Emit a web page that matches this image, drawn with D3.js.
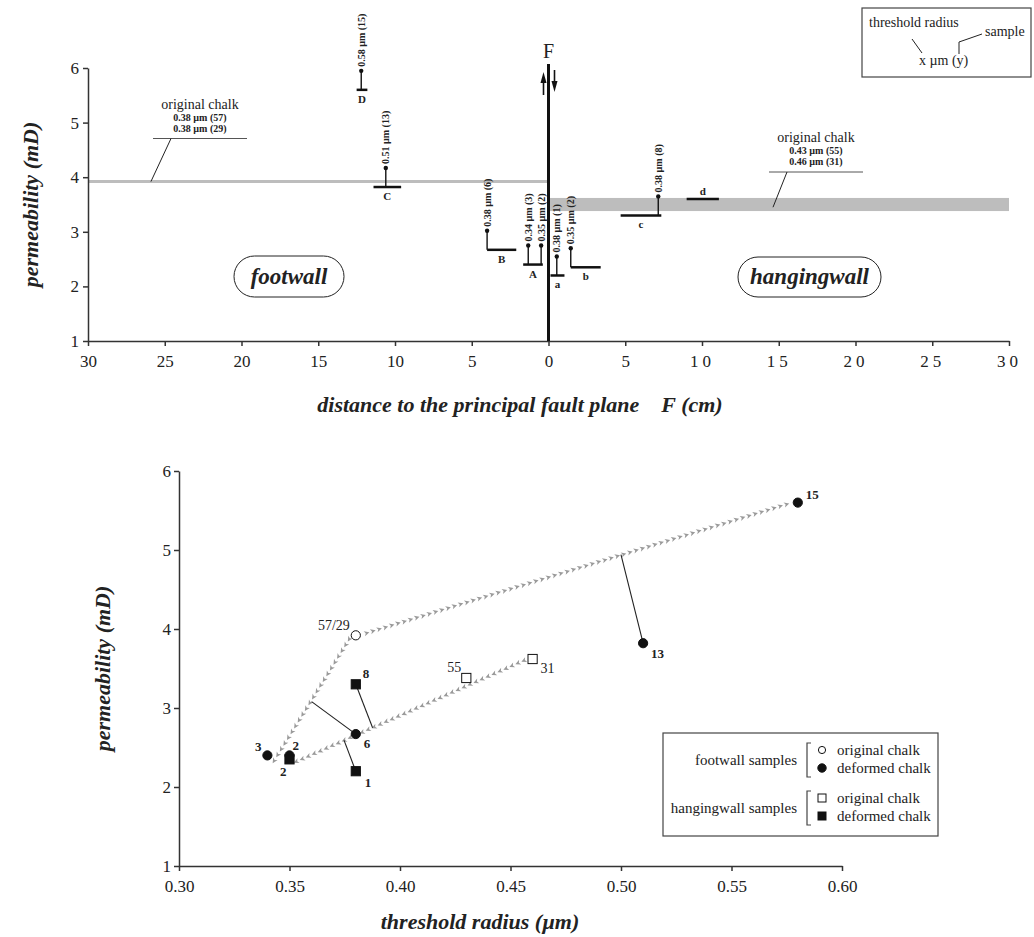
<!DOCTYPE html>
<html lang="en">
<head>
    <meta charset="utf-8">
    <title>Permeability across the fault zone</title>
    <script src="https://d3js.org/d3.v7.min.js"></script>
    <style>
        body {
            margin: 0;
            background: white;
        }
        svg, svg text {
            font-family: "Liberation Serif", "DejaVu Serif", Times, serif;
        }
        svg text {
            fill: #222;
        }
        .axis path, .axis line {
            stroke: #333;
            stroke-width: 1.5;
        }
        .axis text {
            font-size: 17px;
        }
        .axis-title {
            font-weight: bold;
            font-style: italic;
            font-size: 22px;
        }
        .val-label {
            font-size: 10px;
            font-weight: bold;
        }
        .mark-letter {
            font-size: 11px;
            font-weight: bold;
        }
        .legend-text {
            font-size: 15px;
        }
    </style>
</head>
<body>
<div id="chart"></div>
<script>
// ---- top chart: permeability vs distance to fault plane ----
const distTicks = [-30, -25, -20, -15, -10, -5, 0, 5, 10, 15, 20, 25, 30];
const permTicks = [1, 2, 3, 4, 5, 6];

// footwall original chalk (single value) and hangingwall band
const footwallOriginal = 3.92;
const hangingwallBand = [3.38, 3.62];

// sample zones (footwall negative distance, hangingwall positive)
const zoneLetters = ["D", "C", "B", "A", "a", "b", "c", "d"];
const zoneFrom = [-12.5, -11.4, -4.0, -1.65, 0.13, 1.45, 4.7, 9.0];
const zoneTo = [-11.8, -9.6, -2.1, -0.37, 1.04, 3.4, 7.35, 11.1];
const zonePerm = [5.6, 3.82, 2.67, 2.40, 2.20, 2.35, 3.30, 3.60];

// measured plugs inside the zones
const plugZone = ["D", "C", "B", "A", "A", "a", "b", "c"];
const plugDist = [-12.2, -10.6, -4.0, -1.32, -0.48, 0.54, 1.45, 7.15];
const plugText = ["0.58 \u00b5m (15)", "0.51 \u00b5m (13)", "0.38 \u00b5m (6)", "0.34 \u00b5m (3)",
                  "0.35 \u00b5m (2)", "0.38 \u00b5m (1)", "0.35 \u00b5m (2)", "0.38 \u00b5m (8)"];

// ---- bottom chart: permeability vs threshold radius ----
const radiusTicks = [0.30, 0.35, 0.40, 0.45, 0.50, 0.55, 0.60];
const sampleIds = ["57/29", "15", "13", "6", "3", "2", "55", "31", "8", "2", "1"];
const sampleRadius = [0.38, 0.58, 0.51, 0.38, 0.34, 0.35, 0.43, 0.46, 0.38, 0.35, 0.38];
const samplePerm = [3.92, 5.60, 3.82, 2.67, 2.40, 2.40, 3.38, 3.62, 3.30, 2.35, 2.20];
const sampleWall = ["foot", "foot", "foot", "foot", "foot", "foot", "hanging", "hanging", "hanging", "hanging", "hanging"];
const sampleState = ["original", "deformed", "deformed", "deformed", "deformed", "deformed",
                     "original", "original", "deformed", "deformed", "deformed"];

// gray evolution paths (radius, perm) start -> end
const trendPaths = [
    [[0.385, 3.95], [0.575, 5.58]],
    [[0.377, 3.87], [0.343, 2.33]],
    [[0.456, 3.60], [0.353, 2.32]]
];
// black tie lines from a sample to a path
const tieLines = [
    [[0.51, 3.82], [0.50, 4.94]],
    [[0.38, 2.67], [0.36, 3.08]],
    [[0.38, 3.30], [0.3876, 2.75]],
    [[0.38, 2.20], [0.3747, 2.59]]
];

const W = 1034, H = 937;
const svg = d3.select("#chart").append("svg")
    .attr("width", W)
    .attr("height", H)
    .attr("font-family", "Liberation Serif, DejaVu Serif, serif");

// ================= TOP CHART =================
const xTop = d3.scaleLinear().domain([-30, 30]).range([88, 1009]);
const yTop = d3.scaleLinear().domain([1, 6]).range([341, 68]);

const topG = svg.append("g");

// hangingwall band
topG.append("rect")
    .attr("x", xTop(0))
    .attr("y", yTop(hangingwallBand[1]))
    .attr("width", xTop(30) - xTop(0))
    .attr("height", yTop(hangingwallBand[0]) - yTop(hangingwallBand[1]))
    .attr("fill", "#bdbdbd");

// footwall original line
topG.append("line")
    .attr("x1", xTop(-30)).attr("x2", xTop(0))
    .attr("y1", yTop(footwallOriginal)).attr("y2", yTop(footwallOriginal))
    .attr("stroke", "#bdbdbd")
    .attr("stroke-width", 3);

// axes
topG.append("g")
    .attr("class", "axis")
    .attr("transform", `translate(0,${yTop(1)})`)
    .call(d3.axisBottom(xTop).tickValues(distTicks).tickSize(5).tickSizeOuter(0).tickFormat(d => Math.abs(d)))
    .attr("font-family", null)
    .call(g => g.selectAll("text")
        .attr("dy", "1.05em")
        .style("letter-spacing", d => d >= 10 ? "4px" : null));

topG.append("g")
    .attr("class", "axis")
    .attr("transform", `translate(${xTop(-30)},0)`)
    .call(d3.axisLeft(yTop).tickValues(permTicks).tickSize(5).tickSizeOuter(0).tickFormat(d3.format("d")))
    .attr("font-family", null)
    .call(g => g.selectAll("text").attr("dx", "-1px"));

// axis titles
topG.append("text")
    .attr("class", "axis-title")
    .attr("transform", `translate(38,${(yTop(1) + yTop(6)) / 2}) rotate(-90)`)
    .attr("text-anchor", "middle")
    .text("permeability (mD)");

topG.append("text")
    .attr("class", "axis-title")
    .attr("x", 520)
    .attr("y", 412)
    .attr("text-anchor", "middle")
    .attr("xml:space", "preserve")
    .text("distance to the principal fault plane    F (cm)");

// fault plane
topG.append("line")
    .attr("x1", xTop(0)).attr("x2", xTop(0))
    .attr("y1", 64).attr("y2", yTop(1))
    .attr("stroke", "#111")
    .attr("stroke-width", 3);

topG.append("text")
    .attr("x", xTop(0))
    .attr("y", 58)
    .attr("text-anchor", "middle")
    .style("font-size", "20px")
    .text("F");

// slip arrows
const fx = xTop(0);
topG.append("line").attr("x1", fx - 5).attr("x2", fx - 5).attr("y1", 80).attr("y2", 95)
    .attr("stroke", "#111").attr("stroke-width", 1.6);
topG.append("path").attr("d", `M${fx - 8},${83} L${fx - 5},${72} L${fx - 2},${83} Z`).attr("fill", "#111");
topG.append("line").attr("x1", fx + 6).attr("x2", fx + 6).attr("y1", 70).attr("y2", 84)
    .attr("stroke", "#111").attr("stroke-width", 1.6);
topG.append("path").attr("d", `M${fx + 3},${81} L${fx + 6},${92} L${fx + 9},${81} Z`).attr("fill", "#111");

// original chalk callouts
function callout(cx, lineY, leaderFrom, leaderTo, lines) {
    topG.append("text").attr("x", cx).attr("y", lineY - 30)
        .attr("text-anchor", "middle").style("font-size", "14px").text("original chalk");
    lines.forEach((t, i) => {
        topG.append("text").attr("x", cx).attr("y", lineY - 18 + i * 11)
            .attr("text-anchor", "middle").attr("class", "val-label").text(t);
    });
    topG.append("line").attr("x1", cx - 47).attr("x2", cx + 47)
        .attr("y1", lineY).attr("y2", lineY)
        .attr("stroke", "#555").attr("stroke-width", 1);
    topG.append("line").attr("x1", leaderFrom[0]).attr("y1", leaderFrom[1])
        .attr("x2", leaderTo[0]).attr("y2", leaderTo[1])
        .attr("stroke", "#222").attr("stroke-width", 1);
}
callout(200, 138.5, [171, 138.5], [xTop(-25.9), yTop(footwallOriginal)],
    ["0.38 \u00b5m (57)", "0.38 \u00b5m (29)"]);
callout(816, 172, [787, 172], [773, yTop(3.45)],
    ["0.43 \u00b5m (55)", "0.46 \u00b5m (31)"]);

// sample zones
zoneLetters.forEach((z, i) => {
    const y = yTop(zonePerm[i]);
    topG.append("line")
        .attr("x1", xTop(zoneFrom[i])).attr("x2", xTop(zoneTo[i]))
        .attr("y1", y).attr("y2", y)
        .attr("stroke", "#111").attr("stroke-width", 2.5);
    const hasPlug = plugZone.includes(z);
    topG.append("text")
        .attr("class", "mark-letter")
        .attr("x", (xTop(zoneFrom[i]) + xTop(zoneTo[i])) / 2)
        .attr("y", hasPlug ? y + 13 : y - 4)
        .attr("text-anchor", "middle")
        .text(z);
});

plugDist.forEach((d, i) => {
    const zi = zoneLetters.indexOf(plugZone[i]);
    const y0 = yTop(zonePerm[zi]);
    const x = xTop(d);
    const yDot = y0 - 19;
    topG.append("line").attr("x1", x).attr("x2", x).attr("y1", y0).attr("y2", yDot)
        .attr("stroke", "#111").attr("stroke-width", 1.4);
    topG.append("circle").attr("cx", x).attr("cy", yDot).attr("r", 2.2).attr("fill", "#111");
    topG.append("text")
        .attr("class", "val-label")
        .attr("transform", `translate(${x + 3.5},${yDot - 4}) rotate(-90)`)
        .text(plugText[i]);
});

// footwall / hangingwall tags
function tag(x, y, w, h, label) {
    topG.append("rect").attr("x", x).attr("y", y).attr("width", w).attr("height", h)
        .attr("rx", h / 2).attr("fill", "none").attr("stroke", "#222").attr("stroke-width", 1);
    topG.append("text").attr("x", x + w / 2).attr("y", y + h / 2 + 7)
        .attr("text-anchor", "middle")
        .style("font-weight", "bold").style("font-style", "italic").style("font-size", "23px")
        .text(label);
}
tag(234, 256, 110, 41, "footwall");
tag(738, 257, 143, 40, "hangingwall");

// key box top-right
const key = svg.append("g");
key.append("rect").attr("x", 862).attr("y", 8).attr("width", 169).attr("height", 69)
    .attr("fill", "none").attr("stroke", "#444").attr("stroke-width", 1.2);
key.append("text").attr("x", 869).attr("y", 27).style("font-size", "14px").text("threshold radius");
key.append("text").attr("x", 985).attr("y", 36).style("font-size", "14px").text("sample");
key.append("text").attr("x", 919).attr("y", 65).style("font-size", "14px").text("x \u00b5m (y)");
key.append("line").attr("x1", 912).attr("y1", 39).attr("x2", 922).attr("y2", 53)
    .attr("stroke", "#222").attr("stroke-width", 1);
key.append("path").attr("d", "M959,54 L959,42 L982,34")
    .attr("fill", "none").attr("stroke", "#222").attr("stroke-width", 1);

// ================= BOTTOM CHART =================
const xBot = d3.scaleLinear().domain([0.30, 0.60]).range([179, 842]);
const yBot = d3.scaleLinear().domain([1, 6]).range([866, 471]);
const bot = svg.append("g");

bot.append("g")
    .attr("class", "axis")
    .attr("transform", `translate(0,${yBot(1)})`)
    .call(d3.axisBottom(xBot).tickValues(radiusTicks).tickSize(5).tickSizeOuter(0).tickFormat(d3.format(".2f")))
    .attr("font-family", null)
    .call(g => g.selectAll("text").attr("dy", "1.05em"));

bot.append("g")
    .attr("class", "axis")
    .attr("transform", `translate(${xBot(0.30)},0)`)
    .call(d3.axisLeft(yBot).tickValues(permTicks).tickSize(5).tickSizeOuter(0).tickFormat(d3.format("d")))
    .attr("font-family", null);

bot.append("text")
    .attr("class", "axis-title")
    .attr("transform", `translate(110,${(yBot(1) + yBot(6)) / 2}) rotate(-90)`)
    .attr("text-anchor", "middle")
    .text("permeability (mD)");

bot.append("text")
    .attr("class", "axis-title")
    .attr("x", 480)
    .attr("y", 929)
    .attr("text-anchor", "middle")
    .text("threshold radius (\u00b5m)");

// gray chevron paths
function chevrons(p0, p1, step) {
    const a = [xBot(p0[0]), yBot(p0[1])], b = [xBot(p1[0]), yBot(p1[1])];
    const dx = b[0] - a[0], dy = b[1] - a[1];
    const len = Math.hypot(dx, dy);
    const ang = Math.atan2(dy, dx) * 180 / Math.PI;
    const n = Math.floor(len / step);
    bot.append("g").selectAll("path")
        .data(d3.range(n + 1))
        .join("path")
        .attr("d", "M-2.6,-2.6L2.6,0L-2.6,2.6L-1.2,0Z")
        .attr("transform", i => `translate(${a[0] + dx * i / n},${a[1] + dy * i / n}) rotate(${ang})`)
        .attr("fill", "#9a9a9a");
}
trendPaths.forEach(p => chevrons(p[0], p[1], 6.5));

tieLines.forEach(l => {
    bot.append("line")
        .attr("x1", xBot(l[0][0])).attr("y1", yBot(l[0][1]))
        .attr("x2", xBot(l[1][0])).attr("y2", yBot(l[1][1]))
        .attr("stroke", "#222").attr("stroke-width", 1.1);
});

// sample markers
sampleIds.forEach((id, i) => {
    const x = xBot(sampleRadius[i]), y = yBot(samplePerm[i]);
    const fill = sampleState[i] === "original" ? "white" : "#111";
    if (sampleWall[i] === "foot") {
        bot.append("circle").attr("cx", x).attr("cy", y).attr("r", 4.6)
            .attr("fill", fill).attr("stroke", "#111").attr("stroke-width", 1);
    } else {
        bot.append("rect").attr("x", x - 4.6).attr("y", y - 4.6).attr("width", 9.2).attr("height", 9.2)
            .attr("fill", fill).attr("stroke", "#111").attr("stroke-width", 1);
    }
});

// sample labels (offset in px, anchor)
const labelDx = [-6, 8, 8, 8, -6, 3, -5, 8, 7, -3, 9];
const labelDy = [-5, -4, 15, 14, -4, -5, -6, 14, -6, 17, 16];
const labelAnchor = ["end", "start", "start", "start", "end", "start", "end", "start", "start", "end", "start"];
sampleIds.forEach((id, i) => {
    bot.append("text")
        .attr("x", xBot(sampleRadius[i]) + labelDx[i])
        .attr("y", yBot(samplePerm[i]) + labelDy[i])
        .attr("text-anchor", labelAnchor[i])
        .style("font-size", sampleState[i] === "original" ? "14px" : "13px")
        .style("font-weight", sampleState[i] === "original" ? "normal" : "bold")
        .text(id);
});

// legend box
const lg = svg.append("g");
lg.append("rect").attr("x", 663).attr("y", 733).attr("width", 275).attr("height", 103)
    .attr("fill", "white").attr("stroke", "#444").attr("stroke-width", 1.2);

function legendGroup(y0, title, shape) {
    lg.append("text").attr("x", 797).attr("y", y0 + 15).attr("text-anchor", "end")
        .attr("class", "legend-text").text(title);
    lg.append("path").attr("d", `M811,${y0 - 7} L807,${y0 - 7} L807,${y0 + 27} L811,${y0 + 27}`)
        .attr("fill", "none").attr("stroke", "#444").attr("stroke-width", 1.2);
    ["original chalk", "deformed chalk"].forEach((t, k) => {
        const cy = y0 + k * 18;
        const fill = k === 0 ? "white" : "#111";
        if (shape === "circle") {
            lg.append("circle").attr("cx", 822).attr("cy", cy).attr("r", k === 0 ? 3.6 : 4.2)
                .attr("fill", fill).attr("stroke", "#111").attr("stroke-width", 1);
        } else {
            lg.append("rect").attr("x", 818).attr("y", cy - 4).attr("width", 8).attr("height", 8)
                .attr("fill", fill).attr("stroke", "#111").attr("stroke-width", 1);
        }
        lg.append("text").attr("x", 837).attr("y", cy + 5).attr("class", "legend-text").text(t);
    });
}
legendGroup(750, "footwall samples", "circle");
legendGroup(798, "hangingwall samples", "square");
</script>
</body>
</html>
